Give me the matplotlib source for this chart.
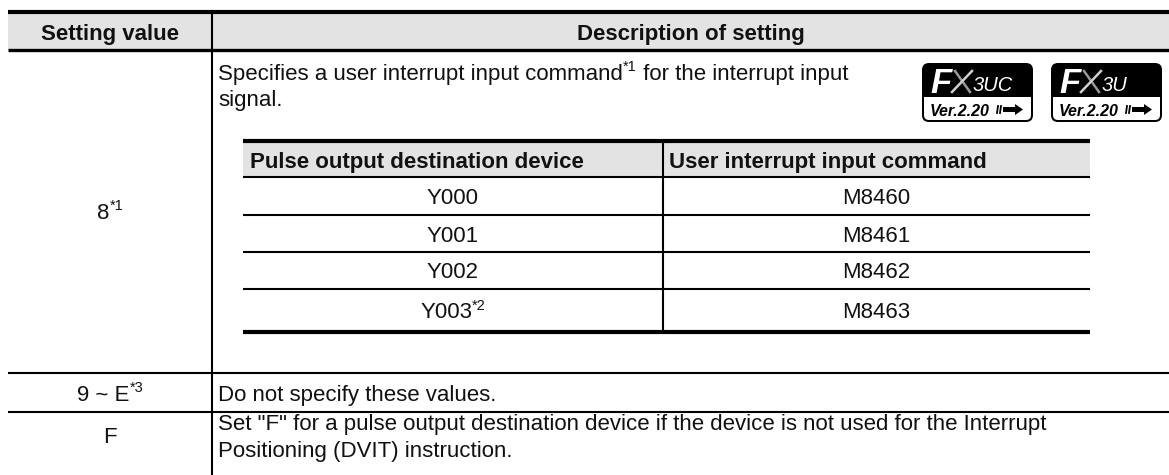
import matplotlib
matplotlib.use('Agg')
import matplotlib.pyplot as plt
from matplotlib.patches import Rectangle, FancyBboxPatch, FancyArrow

plt.rcParams['font.family'] = ['Liberation Sans', 'DejaVu Sans']

# table content
header_left = 'Setting value'
header_right = 'Description of setting'
setting_values = ['8', '9 ~ E', 'F']
setting_notes = ['*1', '*3', '']
desc_line1 = ['Specifies a user interrupt input command', '*1', ' for the interrupt input']
desc_line2 = 'signal.'
desc_row2 = 'Do not specify these values.'
desc_row3 = ['Set "F" for a pulse output destination device if the device is not used for the Interrupt',
             'Positioning (DVIT) instruction.']

inner_headers = ['Pulse output destination device', 'User interrupt input command']
devices = ['Y000', 'Y001', 'Y002', 'Y003']
device_notes = ['', '', '', '*2']
commands = ['M8460', 'M8461', 'M8462', 'M8463']

badge_models = ['3UC', '3U']
badge_version = 'Ver.2.20'

W, H = 1169, 475
fig = plt.figure(figsize=(W / 100, H / 100), dpi=100)
ax = fig.add_axes([0, 0, 1, 1])
ax.set_xlim(0, W)
ax.set_ylim(H, 0)
ax.axis('off')
renderer = fig.canvas.get_renderer()

FS = 16
SUP = 10.5
INK = '#111111'
GRAY = '#e3e3e3'


def width_of(s, size, weight='normal'):
    t = ax.text(0, 0, '|' + s + '|', fontsize=size, fontweight=weight)
    w = t.get_window_extent(renderer).width
    t.remove()
    t = ax.text(0, 0, '||', fontsize=size, fontweight=weight)
    w -= t.get_window_extent(renderer).width
    t.remove()
    return w


def put_runs(x, y, parts, ha='left'):
    # parts: (text, size, rise, weight)
    widths = [width_of(s, sz, wt) for s, sz, r, wt in parts]
    if ha == 'center':
        x -= sum(widths) / 2
    for (s, sz, r, wt), w in zip(parts, widths):
        ax.text(x, y - r, s, fontsize=sz, fontweight=wt, color=INK,
                ha='left', va='baseline')
        x += w


# outer table geometry
x0, xdiv, x1 = 8, 212, W
y_top, y_head, y_rows = 12, 50, [373, 412]

ax.add_patch(Rectangle((x0, y_top), x1 - x0, y_head - y_top, fc=GRAY, ec='none'))
ax.plot([x0, x1], [y_top, y_top], color='black', lw=3, solid_capstyle='butt')
ax.plot([x0, x1], [y_head, y_head], color='black', lw=2.4, solid_capstyle='butt')
for yy in y_rows:
    ax.plot([x0, x1], [yy, yy], color='black', lw=1.5, solid_capstyle='butt')
ax.plot([xdiv, xdiv], [y_top, H], color='black', lw=1.5, solid_capstyle='butt')

ax.text((x0 + xdiv) / 2, 40, header_left, fontsize=FS, fontweight='bold',
        ha='center', va='baseline', color=INK)
ax.text((xdiv + x1) / 2, 40, header_right, fontsize=FS, fontweight='bold',
        ha='center', va='baseline', color=INK)

# setting value column
value_baselines = [219, 401, 443]
for v, n, yb in zip(setting_values, setting_notes, value_baselines):
    parts = [(v, FS, 0, 'normal')]
    if n:
        parts.append((n, SUP, 9, 'normal'))
    put_runs((x0 + xdiv) / 2, yb, parts, ha='center')

# description column
tx = 218
put_runs(tx, 80, [(desc_line1[0], FS, 0, 'normal'), (desc_line1[1], SUP, 9, 'normal'),
                  (desc_line1[2], FS, 0, 'normal')])
ax.text(tx, 106, desc_line2, fontsize=FS, ha='left', va='baseline', color=INK)
ax.text(tx, 401, desc_row2, fontsize=FS, ha='left', va='baseline', color=INK)
ax.text(tx, 430, desc_row3[0], fontsize=FS, ha='left', va='baseline', color=INK)
ax.text(tx, 457, desc_row3[1], fontsize=FS, ha='left', va='baseline', color=INK)

# version badges
badge_x = [922, 1051]
bw, by, bh, bsplit = 111, 63, 59, 97
for bx, model in zip(badge_x, badge_models):
    outer = FancyBboxPatch((bx, by), bw, bh, boxstyle='round,pad=0,rounding_size=7',
                           fc='black', ec='none')
    ax.add_patch(outer)
    inner = FancyBboxPatch((bx + 2, by + 2), bw - 4, bh - 4,
                           boxstyle='round,pad=0,rounding_size=5', fc='none', ec='none')
    ax.add_patch(inner)
    low = Rectangle((bx, bsplit), bw, bh, fc='white', ec='none')
    ax.add_patch(low)
    low.set_clip_path(inner)
    ax.text(bx + 8, bsplit - 4, 'F', fontsize=25, fontweight='bold', style='italic',
            color='white', ha='left', va='baseline')
    # thin X strokes of the logo
    ax.plot([bx + 33, bx + 48], [by + 8, bsplit - 5], color='#9a9a9a', lw=1.8)
    ax.plot([bx + 50, bx + 30], [by + 8, bsplit - 5], color='#d0d0d0', lw=1.8)
    ax.text(bx + 51, bsplit - 6, model, fontsize=14.5, style='italic',
            color='white', ha='left', va='baseline')
    ax.text(bx + 8, bh + by - 6, badge_version, fontsize=11.5, fontweight='bold',
            style='italic', color='black', ha='left', va='baseline')
    ax.plot([bx + 76, bx + 75], [bh + by - 16, bh + by - 9], color='black', lw=1.3)
    ax.plot([bx + 79, bx + 78], [bh + by - 16, bh + by - 9], color='black', lw=1.3)
    ax.add_patch(FancyArrow(bx + 81, bh + by - 12.5, 12, 0, width=5, head_width=11,
                            head_length=8, length_includes_head=False,
                            fc='black', ec='none'))

# inner table
ix0, ixdiv, ix1 = 243, 663, 1090
iy_top, iy_head = 141, 177
iy_rows = [215, 252, 289]
iy_bot = 332

ax.add_patch(Rectangle((ix0, iy_top), ix1 - ix0, iy_head - iy_top, fc=GRAY, ec='none'))
ax.plot([ix0, ix1], [iy_top, iy_top], color='black', lw=3, solid_capstyle='butt')
ax.plot([ix0, ix1], [iy_bot, iy_bot], color='black', lw=3, solid_capstyle='butt')
for yy in [iy_head] + iy_rows:
    ax.plot([ix0, ix1], [yy, yy], color='black', lw=1.5, solid_capstyle='butt')
ax.plot([ixdiv, ixdiv], [iy_top, iy_bot], color='black', lw=1.5, solid_capstyle='butt')

ax.text(ix0 + 7, 168, inner_headers[0], fontsize=FS, fontweight='bold',
        ha='left', va='baseline', color=INK)
ax.text(ixdiv + 6, 168, inner_headers[1], fontsize=FS, fontweight='bold',
        ha='left', va='baseline', color=INK)

row_edges = [iy_head] + iy_rows + [iy_bot]
for i, (dev, note, cmd) in enumerate(zip(devices, device_notes, commands)):
    yb = (row_edges[i] + row_edges[i + 1]) / 2 + 8
    parts = [(dev, FS, 0, 'normal')]
    if note:
        parts.append((note, SUP, 9, 'normal'))
    put_runs((ix0 + ixdiv) / 2, yb, parts, ha='center')
    ax.text((ixdiv + ix1) / 2, yb, cmd, fontsize=FS, ha='center', va='baseline', color=INK)

fig.savefig('out.png', dpi=100)
